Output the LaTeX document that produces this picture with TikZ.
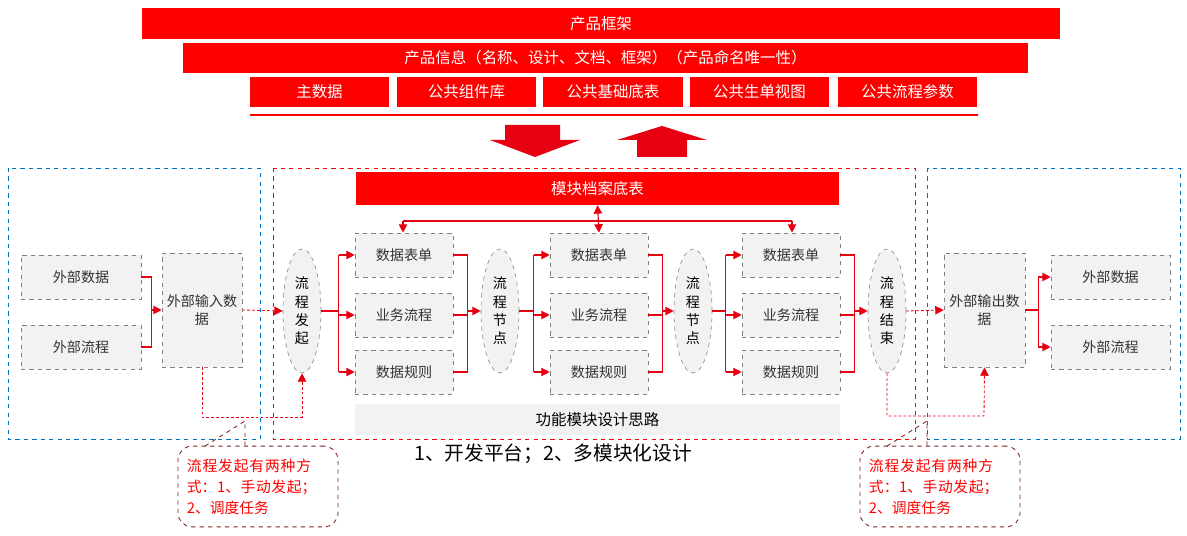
\documentclass[tikz,border=0pt]{standalone}
\usepackage{fontspec}
\setmainfont{Noto Sans CJK SC}
\XeTeXlinebreaklocale "zh"
\XeTeXlinebreakskip=0pt plus 1pt
\usetikzlibrary{shapes.geometric,arrows.meta,calc}
\definecolor{hdred}{HTML}{FF0000}
\definecolor{arred}{HTML}{E60012}
\definecolor{boxgray}{HTML}{F2F2F2}
\definecolor{dashblue}{HTML}{0070C0}
\definecolor{tipred}{HTML}{7F1F1F}
\tikzset{
  bar/.style={fill=hdred,text=white,inner sep=0pt,font=\fontsize{11}{12}\selectfont},
  box/.style={draw=gray,dashed,fill=boxgray,inner sep=1pt,align=center,font=\fontsize{10}{13}\selectfont,text=black!80},
  oval/.style={ellipse,draw=gray,dashed,fill=boxgray,minimum width=0.95cm,minimum height=3.1cm,inner sep=0pt,align=center,font=\fontsize{10}{13}\selectfont},
  line/.style={arred,thick},
  arr/.style={arred,thick,-{Triangle[length=6pt,width=6pt]}},
  dots/.style={arred,semithick,dash pattern=on 2pt off 1.5pt,-{Triangle[length=6pt,width=6pt]}},
  area/.style={dashed,thin},
  note/.style={draw=tipred,dashed,semithick,rounded corners=10pt,text=hdred,align=left,text width=3.55cm,font=\fontsize{10.5}{15}\selectfont,inner sep=4pt}
}
\begin{document}
\begin{tikzpicture}[x=0.025cm,y=-0.025cm]
\useasboundingbox (0,0) rectangle (1187,536);
% header bars
\node[bar,minimum width=22.95cm,minimum height=0.78cm] (frame) at (601,23.5) {产品框架};
\node[bar,minimum width=21.125cm,minimum height=0.75cm] (info) at (605.5,58) {产品信息（名称、设计、文档、框架）（产品命名唯一性）};
\foreach \n/\x/\t in {m1/319.5/主数据,m2/466.5/公共组件库,m3/613/公共基础底表,m4/759.5/公共生单视图,m5/907.5/公共流程参数}
  \node[bar,minimum width=3.48cm,minimum height=0.75cm] (\n) at (\x,92) {\t};
\draw[hdred,line width=1.5pt] (250,115) -- (978,115);
% big arrows
\fill[arred] (505,125) -- (560,125) -- (560,140) -- (580,140) -- (535,157) -- (490,140) -- (505,140) -- cycle;
\fill[arred] (637,157) -- (687,157) -- (687,140) -- (707,140) -- (662,126) -- (617,140) -- (637,140) -- cycle;
% areas
\draw[area,dashblue] (8,168) rectangle (260,439);
\draw[area,dashblue] (927,168) rectangle (1180,439);
\draw[area,hdred] (273,168) rectangle (915,439);
\node[bar,minimum width=12.075cm,minimum height=0.82cm] (base) at (597.5,188.5) {模块档案底表};
\node[fill=boxgray,minimum width=12.125cm,minimum height=0.78cm,font=\fontsize{11}{12}\selectfont] (idea) at (597.5,419.5) {功能模块设计思路};
\node[font=\fontsize{14}{16}\selectfont] (goal) at (553,454) {1、开发平台；2、多模块化设计};
% ovals
\node[oval] (e0) at (302,311) {流\\程\\发\\起};
\node[oval] (e1) at (500,311) {流\\程\\节\\点};
\node[oval] (e2) at (693,311) {流\\程\\节\\点};
\node[oval] (e3) at (887,311) {流\\程\\结\\束};
% module columns
\foreach \i/\x in {1/404,2/599,3/791}{
  \node[box,minimum width=2.45cm,minimum height=1.1cm] (d\i-1) at (\x,255) {数据表单};
  \node[box,minimum width=2.45cm,minimum height=1.1cm] (d\i-2) at (\x,315) {业务流程};
  \node[box,minimum width=2.45cm,minimum height=1.1cm] (d\i-3) at (\x,372) {数据规则};
  \pgfmathtruncatemacro\j{\i-1}
  % fan out
  \coordinate (t\i) at ($(d\i-1.west)+(-16,0)$);
  \draw[line] (e\j.east) -- (t\i |- e\j.east);
  \draw[line] (t\i) -- (t\i |- d\i-3.west);
  \foreach \k in {1,2,3}
    \draw[arr] (t\i |- d\i-\k.west) -- (d\i-\k.west);
  % collect
  \draw[line] (d\i-1.east) -- ++(14,0) coordinate (c\i) -- (c\i |- d\i-3.east) -- (d\i-3.east);
  \draw[line] (d\i-2.east) -- (c\i |- d\i-2.east);
  \draw[arr] (c\i |- e\i.west) -- (e\i.west);
}
% base table links
\draw[line] (403,221) -- (792,221);
\draw[arr] (403,221) -- (d1-1.north -| 403,0);
\draw[arr] (792,221) -- (d3-1.north -| 792,0);
\draw[arred,thick,{Triangle[length=6pt,width=6pt]}-{Triangle[length=6pt,width=6pt]}] (base.south) -- (d2-1.north);
% left side
\node[box,minimum width=3cm,minimum height=1.1cm] (inA) at (81,277) {外部数据};
\node[box,minimum width=3cm,minimum height=1.1cm] (inB) at (81,347) {外部流程};
\node[box,minimum width=2cm,minimum height=2.85cm] (inD) at (202,310) {外部输入数\\据};
\draw[line] (inA.east) -- ++(10,0) coordinate (ca) -- (ca |- inB.east) -- (inB.east);
\draw[arr] (ca |- inD.west) -- (inD.west);
\draw[dots] (inD.east) -- (e0.west);
\draw[dots] (inD.south) -- (202,417) -- (302,417) -- (e0.south);
% right side
\node[box,minimum width=2.025cm,minimum height=2.85cm] (outD) at (984.5,310) {外部输出数\\据};
\node[box,minimum width=2.975cm,minimum height=1.1cm] (outA) at (1110.5,277) {外部数据};
\node[box,minimum width=2.975cm,minimum height=1.1cm] (outB) at (1110.5,347) {外部流程};
\draw[line] (outD.east) -- ++(13,0) coordinate (co) -- (co |- outA.west);
\draw[line] (co) -- (co |- outB.west);
\draw[arr] (co |- outA.west) -- (outA.west);
\draw[arr] (co |- outB.west) -- (outB.west);
\draw[dots] (e3.east) -- (outD.west);
\draw[dots] (e3.south) -- (887,416) -- (984,416) -- (outD.south);
% notes
\node[note,minimum width=4cm,minimum height=2.02cm] (noteL) at (258,486.5) {流程发起有两种方式：1、手动发起；2、调度任务};
\draw[tipred,dashed,semithick] (205,446) -- (245,421) -- (245,446);
\node[note,minimum width=4cm,minimum height=2.02cm] (noteR) at (940,486.5) {流程发起有两种方式：1、手动发起；2、调度任务};
\draw[tipred,dashed,semithick] (887,446) -- (927,421) -- (927,446);
\end{tikzpicture}
\end{document}
